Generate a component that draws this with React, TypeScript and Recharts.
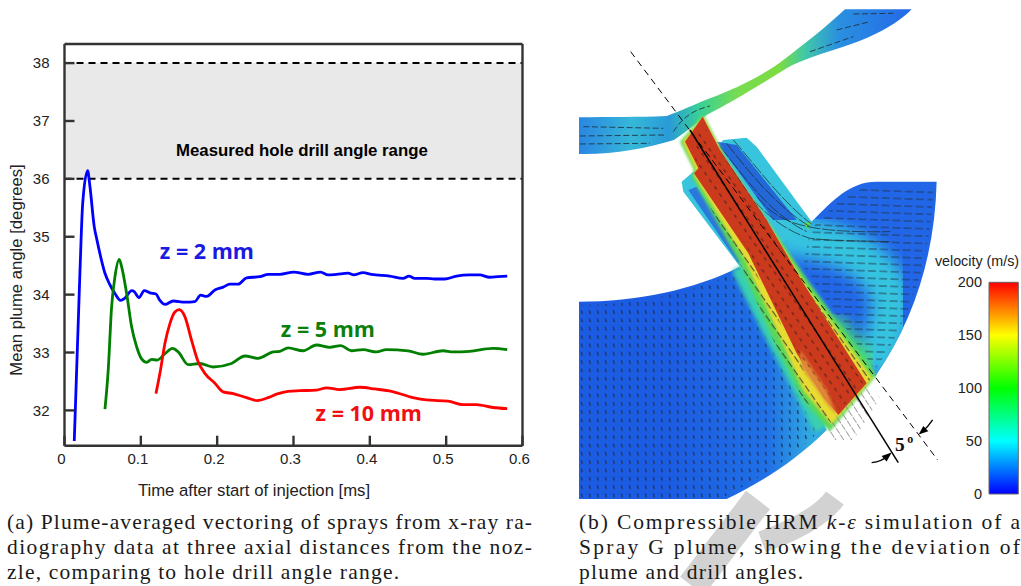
import React from 'react';
import { LineChart, Line, XAxis, YAxis, ReferenceArea, ReferenceLine, ReferenceDot } from 'recharts';

// time [ms], mean plume angle [deg]
const z2Time = [0.0128, 0.0203, 0.0238, 0.0303, 0.0334, 0.039, 0.0421, 0.053, 0.0587, 0.0661, 0.0735, 0.0792, 0.088, 0.0914, 0.0975, 0.1045, 0.112, 0.1198, 0.125, 0.1316, 0.1424, 0.1577, 0.1708, 0.1783, 0.1861, 0.197, 0.2079, 0.2166, 0.2275, 0.2385, 0.2559, 0.2668, 0.2821, 0.3004, 0.3191, 0.3353, 0.3453, 0.3562, 0.3715, 0.3789, 0.3911, 0.402, 0.426, 0.4435, 0.4513, 0.4588, 0.4741, 0.485, 0.498, 0.5134, 0.5308, 0.5438, 0.557, 0.5679, 0.58];
const z2Angle = [31.47, 34.42, 35.57, 36.14, 35.86, 35.17, 34.97, 34.37, 34.19, 34.02, 33.9, 33.94, 34.07, 34.05, 33.95, 34.07, 34.03, 34.01, 33.9, 33.83, 33.89, 33.87, 33.88, 33.99, 33.97, 34.08, 34.13, 34.18, 34.18, 34.29, 34.31, 34.35, 34.35, 34.39, 34.35, 34.39, 34.34, 34.35, 34.37, 34.34, 34.38, 34.35, 34.32, 34.28, 34.32, 34.28, 34.28, 34.27, 34.27, 34.32, 34.34, 34.34, 34.3, 34.31, 34.32];
const z5Time = [0.053, 0.0573, 0.0617, 0.0661, 0.0717, 0.0749, 0.0814, 0.088, 0.0945, 0.101, 0.1076, 0.1141, 0.1215, 0.1316, 0.1416, 0.149, 0.162, 0.1774, 0.1948, 0.2188, 0.2363, 0.2537, 0.2733, 0.2821, 0.2929, 0.3126, 0.33, 0.3475, 0.3619, 0.3759, 0.3911, 0.4087, 0.4217, 0.45, 0.4696, 0.4958, 0.5089, 0.5308, 0.5613, 0.58];
const z5Angle = [32.02, 32.7, 33.79, 34.31, 34.61, 34.48, 34.02, 33.44, 33.1, 32.89, 32.83, 32.88, 32.87, 32.98, 33.07, 33.01, 32.79, 32.81, 32.75, 32.81, 32.94, 32.9, 33.01, 33.02, 33.08, 33.03, 33.13, 33.09, 33.12, 33.03, 33.05, 33.01, 33.05, 33.03, 32.97, 33.03, 33.01, 33.02, 33.07, 33.05];
const z10Time = [0.1198, 0.125, 0.1316, 0.1381, 0.1446, 0.1503, 0.1577, 0.1665, 0.1751, 0.1839, 0.197, 0.2079, 0.2209, 0.2385, 0.2523, 0.2668, 0.2777, 0.2929, 0.3082, 0.3301, 0.3432, 0.3606, 0.3868, 0.4064, 0.4283, 0.4566, 0.4741, 0.5024, 0.522, 0.5395, 0.5613, 0.58];
const z10Angle = [32.29, 32.64, 33.16, 33.5, 33.7, 33.74, 33.62, 33.21, 32.84, 32.64, 32.47, 32.32, 32.29, 32.22, 32.17, 32.22, 32.28, 32.33, 32.34, 32.35, 32.39, 32.36, 32.4, 32.37, 32.33, 32.22, 32.18, 32.16, 32.1, 32.1, 32.05, 32.03];

const xTicks = [0, 0.1, 0.2, 0.3, 0.4, 0.5, 0.6];
const yTicks = [32, 33, 34, 35, 36, 37, 38];
const velocityTicks = [0, 50, 100, 150, 200];
const velocityRange = [{ pos: 0, velocity: 0 }, { pos: 1, velocity: 200 }];

const toRows = (t: number[], v: number[]) => t.map((time, i) => ({ time, angle: v[i] }));
const z2Rows = toRows(z2Time, z2Angle);
const z5Rows = toRows(z5Time, z5Angle);
const z10Rows = toRows(z10Time, z10Angle);

const tickFont = { fontFamily: 'Liberation Sans', fontSize: 15, fill: '#222' };
const axisLine = { stroke: '#333', strokeWidth: 2.4 };
const tickLine = { stroke: '#333', strokeWidth: 2.4 };

const captionA = [
    '(a) Plume-averaged vectoring of sprays from x-ray ra-',
    'diography data at three axial distances from the noz-',
    'zle, comparing to hole drill angle range.',
];
const captionB = [
    'Spray G plume, showing the deviation of',
    'plume and drill angles.',
];

const rightSector = 'M725 665 C790 600 840 545 920 545 L1100 545 C1095 750 1040 950 915 1130 L600 700 Z';

const Simulation: React.FC = () => (
    <g transform="translate(570 0) scale(0.3333)">
        <defs>
            <linearGradient id="channelFill" gradientUnits="userSpaceOnUse" x1="27" y1="0" x2="1025" y2="0">
                <stop offset="0" stopColor="#2a86e2" />
                <stop offset="0.16" stopColor="#36b8d8" />
                <stop offset="0.27" stopColor="#2a9ad8" />
                <stop offset="0.36" stopColor="#38d098" />
                <stop offset="0.48" stopColor="#78dc50" />
                <stop offset="0.6" stopColor="#7cdc40" />
                <stop offset="0.68" stopColor="#40c8a8" />
                <stop offset="0.78" stopColor="#2a90e0" />
                <stop offset="1" stopColor="#2468e8" />
            </linearGradient>
            <linearGradient id="leftFill" gradientUnits="userSpaceOnUse" x1="300" y1="1000" x2="720" y2="1000">
                <stop offset="0" stopColor="#1c5ce2" />
                <stop offset="0.7" stopColor="#2070e6" />
                <stop offset="1" stopColor="#30a8e0" />
            </linearGradient>
            <pattern id="dots" width="24" height="25" patternUnits="userSpaceOnUse">
                <path d="M10 6 L13 17" stroke="#23345a" strokeWidth="4" />
            </pattern>
            <pattern id="flow" width="34" height="22" patternUnits="userSpaceOnUse" patternTransform="rotate(2)">
                <path d="M4 11 L28 11" stroke="#1e3040" strokeWidth="2.5" />
            </pattern>
            <pattern id="coreDots" width="26" height="26" patternUnits="userSpaceOnUse" patternTransform="rotate(-35)">
                <path d="M8 4 L8 16" stroke="#6a2418" strokeWidth="4" />
            </pattern>
            <pattern id="fringeTicks" width="24" height="30" patternUnits="userSpaceOnUse" patternTransform="rotate(-35)">
                <path d="M10 2 L10 24" stroke="#3a3a30" strokeWidth="3" />
            </pattern>
            <pattern id="exitTicks" width="20" height="24" patternUnits="userSpaceOnUse" patternTransform="rotate(-33)">
                <path d="M10 0 L10 20" stroke="#8a8a8a" strokeWidth="2.5" />
            </pattern>
            <filter id="soft"><feGaussianBlur stdDeviation="7" /></filter>
            <filter id="softer"><feGaussianBlur stdDeviation="22" /></filter>
            <filter id="edge"><feGaussianBlur stdDeviation="4" /></filter>
            <clipPath id="rightClip"><path d={rightSector} /></clipPath>
        </defs>

        <path d="M27 352 C120 350 200 352 290 348 C330 335 380 310 420 295 C500 265 590 220 640 180 C700 135 770 80 825 28 L1025 28 C980 75 900 115 820 140 C760 160 690 180 650 205 C570 255 480 310 410 345 C370 380 340 400 312 420 C230 445 120 465 27 462 Z" fill="url(#channelFill)" />
        <path d="M40 380 L280 385 M30 408 L290 405 M30 432 L240 430 M310 395 C340 350 370 330 420 318 M720 155 L850 110 M800 90 L900 65 M850 42 L970 40" stroke="#1e2e38" strokeWidth="2.5" strokeDasharray="18 8" fill="none" />

        <path d="M27 905 C200 905 370 870 510 800 L620 1000 L770 1290 C680 1380 570 1450 470 1497 L27 1497 Z" fill="url(#leftFill)" />
        <path d="M27 915 C200 915 370 880 510 810 L620 1010 L750 1290 C660 1380 560 1440 450 1497 L27 1497 Z" fill="url(#dots)" />

        <path d={rightSector} fill="#2266e8" />
        <g clipPath="url(#rightClip)">
            <path d="M620 700 C760 720 900 740 960 880 C970 960 940 1040 900 1110" stroke="#34c4e0" strokeWidth="120" fill="none" filter="url(#softer)" />
            <path d="M780 960 L900 1110" stroke="#48dc70" strokeWidth="60" fill="none" filter="url(#softer)" />
            <path d="M720 690 C790 620 840 560 920 560 L1090 560 C1085 750 1030 950 915 1110 L700 800 Z" fill="url(#flow)" />
        </g>

        <path d="M460 420 L530 413 L560 440 L725 665 L700 690 L510 800 L340 575 L335 545 L370 515 Z" fill="#38c4dc" />
        <path d="M440 425 L500 435 L680 660 L610 660 Z" fill="#2468d8" />
        <path d="M355 570 L380 560 L520 770 L505 790 Z" fill="#2a78dc" />
        <path d="M700 670 L725 665 L715 690 Z" fill="#60d860" />
        <path d="M470 430 C540 520 620 620 720 680 M490 420 C560 500 640 610 725 672 M450 440 C530 540 600 640 710 695 M440 460 C520 570 600 680 720 715 C800 725 880 722 960 725 M560 590 C620 660 680 700 960 695" stroke="#1c2a30" strokeWidth="2.2" fill="none" strokeDasharray="40 5" />

        <path d="M510 800 L620 1020 L760 1285" stroke="#38d0b0" strokeWidth="55" fill="none" filter="url(#soft)" />
        <path d="M330 425 L400 345 L470 480 L610 690 L720 850 L920 1125 L780 1295 L700 1200 L610 1020 L510 790 L365 530 L372 510 Z" fill="#58d858" filter="url(#edge)" />
        <path d="M338 425 L400 350 L460 470 L600 680 L710 860 L908 1135 L785 1275 L700 1170 L625 1000 L525 780 L372 525 L378 510 Z" fill="#e8dc30" filter="url(#edge)" />
        <path d="M345 425 L398 350 L450 450 L590 660 L700 850 L890 1150 L805 1245 L760 1190 L680 1060 L535 760 L372 520 L385 505 Z" fill="#cc3a1e" />
        <path d="M690 1050 L770 1170 L800 1245 L770 1210 L695 1100 Z" fill="#e08838" filter="url(#edge)" />
        <path d="M372 530 L535 770 L680 1070 L785 1270 L700 1200 L610 1020 L510 790 Z" fill="url(#fringeTicks)" />
        <path d="M460 470 L600 680 L710 860 L905 1135 L890 1150 L700 850 L590 660 L450 450 Z" fill="url(#fringeTicks)" />
        <path d="M370 430 L398 375 L580 660 L880 1150 L810 1230 L680 1050 L530 740 L380 510 Z" fill="url(#coreDots)" />
        <path d="M800 1245 L895 1150 L930 1195 L850 1320 L790 1320 L775 1290 Z" fill="url(#exitTicks)" />

        <path d="M182 155 L1103 1380" stroke="#000" strokeWidth="3" strokeDasharray="20 14" fill="none" />
        <path d="M360 390 L985 1388" stroke="#000" strokeWidth="4.5" fill="none" />
        <path d="M905 1388 Q935 1385 958 1365" stroke="#000" strokeWidth="4" fill="none" />
        <path d="M965 1358 L935 1368 L950 1385 Z" fill="#000" />
        <path d="M1088 1260 Q1075 1280 1056 1296" stroke="#000" strokeWidth="4" fill="none" />
        <path d="M1046 1304 L1060 1278 L1075 1294 Z" fill="#000" />
        <text x="975" y="1352" fontFamily="Liberation Serif" fontWeight="bold" fontSize="58" fill="#111">5</text>
        <text x="1012" y="1328" fontFamily="Liberation Serif" fontWeight="bold" fontSize="36" fill="#111">o</text>
    </g>
);

const App: React.FC = () => (
    <div style={{ position: 'absolute', left: 0, top: 0, width: 1021, height: 586, background: '#fff', overflow: 'hidden' }}>
        <svg width={1021} height={586} style={{ position: 'absolute', left: 0, top: 0 }}>
            {/* watermark behind caption b */}
            <path d="M758 500 L692 586" stroke="#d2d2d2" strokeWidth="30" fill="none" />
            <path d="M835 498 C820 518 790 532 762 542" stroke="#d2d2d2" strokeWidth="22" fill="none" />
            <Simulation />
            <g fontFamily="Liberation Serif" fontSize="21.5" fill="#1a1a1a">
                {captionA.map((line, i) => (
                    <text key={line} x={7} y={529 + i * 25} textLength={i === 2 ? 392 : 525} lengthAdjust="spacing">{line}</text>
                ))}
                <text x={579} y={529} textLength={441} lengthAdjust="spacing">
                    (b) Compressible HRM <tspan fontStyle="italic">k</tspan>-<tspan fontStyle="italic">ε</tspan> simulation of a
                </text>
                {captionB.map((line, i) => (
                    <text key={line} x={579} y={554 + i * 25} textLength={i === 0 ? 441 : 224} lengthAdjust="spacing">{line}</text>
                ))}
            </g>
            <g fontFamily="Liberation Sans" fontSize="16.7" fill="#222">
                <text x={254} y={496} textAnchor="middle">Time after start of injection [ms]</text>
                <text transform="translate(22 270) rotate(-90)" textAnchor="middle">Mean plume angle [degrees]</text>
                <text x={977} y={266} textAnchor="middle" fontSize="14.3">velocity (m/s)</text>
            </g>
        </svg>

        <div style={{ position: 'absolute', left: 0, top: 0 }}>
            <LineChart width={540} height={500} margin={{ left: 34.5, right: 16.5, top: 43, bottom: 24.3 }}>
                <XAxis xAxisId="b" type="number" dataKey="time" domain={[0, 0.6]} ticks={xTicks} tickFormatter={(v: number) => String(v)}
                    height={30} axisLine={axisLine} tickLine={tickLine} tickSize={-10} tickMargin={18} interval={0}
                    tick={{ ...tickFont, dx: -3 }} allowDataOverflow />
                <XAxis xAxisId="t" orientation="top" type="number" dataKey="time" domain={[0, 0.6]} ticks={xTicks} height={1}
                    axisLine={axisLine} tickLine={tickLine} tickSize={-10} tick={false} interval={0} allowDataOverflow />
                <YAxis yAxisId="l" type="number" domain={[31.39, 38.33]} ticks={yTicks} width={30} axisLine={axisLine} tickLine={tickLine}
                    tickSize={-10} tickMargin={25} interval={0} tick={tickFont} allowDataOverflow />
                <YAxis yAxisId="r" orientation="right" type="number" domain={[31.39, 38.33]} ticks={yTicks} width={1} axisLine={axisLine}
                    tickLine={tickLine} tickSize={-10} tick={false} interval={0} allowDataOverflow />

                <ReferenceArea xAxisId="b" yAxisId="l" x1={0} x2={0.6} y1={36} y2={38} fill="#e9e9e9" fillOpacity={1} stroke="none" />
                <ReferenceLine xAxisId="b" yAxisId="l" y={36} stroke="#000" strokeWidth={2} strokeDasharray="7 5" />
                <ReferenceLine xAxisId="b" yAxisId="l" y={38} stroke="#000" strokeWidth={2} strokeDasharray="7 5" />

                <Line xAxisId="b" yAxisId="l" data={z2Rows} dataKey="angle" type="monotone" stroke="#0000ff" strokeWidth={2.8} dot={false} isAnimationActive={false} />
                <Line xAxisId="b" yAxisId="l" data={z5Rows} dataKey="angle" type="monotone" stroke="#007f00" strokeWidth={2.8} dot={false} isAnimationActive={false} />
                <Line xAxisId="b" yAxisId="l" data={z10Rows} dataKey="angle" type="monotone" stroke="#ff0000" strokeWidth={2.8} dot={false} isAnimationActive={false} />

                <ReferenceDot xAxisId="b" yAxisId="l" x={0.311} y={36.5} r={0} stroke="none" label={{ value: 'Measured hole drill angle range', fontFamily: 'Liberation Sans', fontWeight: 'bold', fontSize: 16.8, fill: '#000' }} />
                <ReferenceDot xAxisId="b" yAxisId="l" x={0.1865} y={34.75} r={0} stroke="none" label={{ value: 'z = 2 mm', fontFamily: 'Open Sans', fontWeight: 'bold', fontSize: 21.5, fill: '#1a1ae0' }} />
                <ReferenceDot xAxisId="b" yAxisId="l" x={0.345} y={33.4} r={0} stroke="none" label={{ value: 'z = 5 mm', fontFamily: 'Open Sans', fontWeight: 'bold', fontSize: 21.5, fill: '#0a800a' }} />
                <ReferenceDot xAxisId="b" yAxisId="l" x={0.3986} y={31.94} r={0} stroke="none" label={{ value: 'z = 10 mm', fontFamily: 'Open Sans', fontWeight: 'bold', fontSize: 21.5, fill: '#f01010' }} />
            </LineChart>
        </div>

        <div style={{ position: 'absolute', left: 920, top: 270 }}>
            <LineChart width={101} height={236} margin={{ left: 9, right: 2.7, top: 12.3, bottom: 12 }}>
                <defs>
                    <linearGradient id="rainbow" x1="0" y1="1" x2="0" y2="0">
                        <stop offset="0" stopColor="#0000ff" />
                        <stop offset="0.25" stopColor="#00ffff" />
                        <stop offset="0.5" stopColor="#00ff00" />
                        <stop offset="0.75" stopColor="#ffff00" />
                        <stop offset="1" stopColor="#ff0000" />
                    </linearGradient>
                </defs>
                <XAxis type="number" dataKey="pos" domain={[0, 1]} hide />
                <YAxis type="number" domain={[0, 200]} ticks={velocityTicks} width={60} axisLine={false} tickLine={false} tickSize={0} tickMargin={7}
                    interval={0} tick={{ ...tickFont, fontSize: 14.5 }} />
                <ReferenceArea x1={0} x2={1} y1={0} y2={200} fill="url(#rainbow)" fillOpacity={1} stroke="#666" strokeWidth={1} />
                <Line data={velocityRange} dataKey="velocity" stroke="none" dot={false} isAnimationActive={false} />
            </LineChart>
        </div>
    </div>
);

export default App;
